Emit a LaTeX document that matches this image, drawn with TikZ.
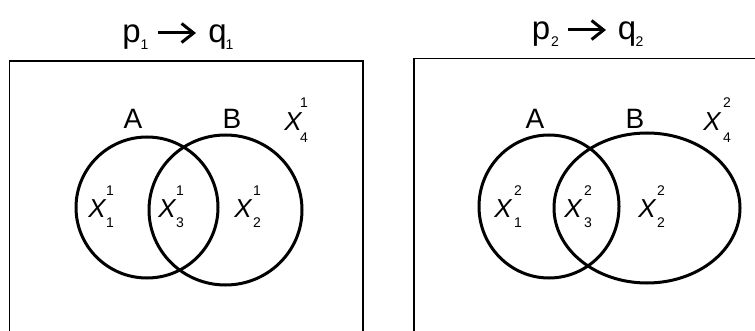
\documentclass[tikz,border=0pt]{standalone}
\usepackage{fontspec}
\setmainfont{Liberation Sans}
\usetikzlibrary{arrows.meta}
\begin{document}
\begin{tikzpicture}[x=1pt,y=-1pt,
  frame/.style={line width=1.8pt},
  setc/.style={line width=3pt},
  setlbl/.style={font=\fontsize{28}{28}\selectfont, inner sep=0pt},
  xlbl/.style={font=\fontsize{26}{26}\selectfont\itshape, inner sep=0pt},
  idx/.style={font=\fontsize{14}{14}\selectfont, inner sep=0pt},
  ttl/.style={font=\fontsize{33}{33}\selectfont, inner sep=0pt, anchor=base},
  tsub/.style={font=\fontsize{14}{14}\selectfont, inner sep=0pt, anchor=base},
  imp/.style={line width=3pt, -{Straight Barb[length=12pt,width=19pt,line width=3pt]}}]
\useasboundingbox (0,0) rectangle (755,331);
% left panel frame
\coordinate (l1) at (9.5,345); \coordinate (l2) at (9.5,61); \coordinate (l3) at (363,61); \coordinate (l4) at (363,345);
\draw[frame] (l1) -- (l2) -- (l3) -- (l4);
% right panel frame
\coordinate (r1) at (414,345); \coordinate (r2) at (414,58.5); \coordinate (r3) at (765,58.5);
\draw[frame] (r1) -- (r2) -- (r3);
% titles
\node[ttl] (p1) at (131.5,43) {p}; \node[tsub] (p1s) at (144.5,50) {1};
\node[ttl] (q1) at (217.5,43) {q}; \node[tsub] (q1s) at (229.5,50) {1};
\coordinate (a1s) at (158,33); \coordinate (a1e) at (196,33);
\draw[imp] (a1s) -- (a1e);
\node[ttl] (p2) at (541,40) {p}; \node[tsub] (p2s) at (555,47) {2};
\node[ttl] (q2) at (627,40) {q}; \node[tsub] (q2s) at (639.5,47) {2};
\coordinate (a2s) at (568,30); \coordinate (a2e) at (606,30);
\draw[imp] (a2s) -- (a2e);
% left panel sets
\draw[setc] (147,207.5) ellipse [x radius=71pt, y radius=70.5pt];
\draw[setc] (225.5,210) ellipse [x radius=76.5pt, y radius=75pt];
\node[setlbl] (A1) at (133,119) {A};
\node[setlbl] (B1) at (232,119) {B};
\node[xlbl] (X41) at (293,122) {X}; \node[idx] (X41u) at (304,103) {1}; \node[idx] (X41d) at (304,138) {4};
\node[xlbl] (X11) at (97,209) {X}; \node[idx] (X11u) at (110,191) {1}; \node[idx] (X11d) at (110,223) {1};
\node[xlbl] (X31) at (167,209) {X}; \node[idx] (X31u) at (180,191) {1}; \node[idx] (X31d) at (180,223) {3};
\node[xlbl] (X21) at (243,209) {X}; \node[idx] (X21u) at (257,191) {1}; \node[idx] (X21d) at (257,223) {2};
% right panel sets
\draw[setc] (549,206.5) ellipse [x radius=70pt, y radius=71.5pt];
\draw[setc] (647,208) ellipse [x radius=93pt, y radius=75pt];
\node[setlbl] (A2) at (535,119) {A};
\node[setlbl] (B2) at (635,119) {B};
\node[xlbl] (X42) at (712,122) {X}; \node[idx] (X42u) at (727,103) {2}; \node[idx] (X42d) at (727,138) {4};
\node[xlbl] (X12) at (503,209) {X}; \node[idx] (X12u) at (518,191) {2}; \node[idx] (X12d) at (518,223) {1};
\node[xlbl] (X32) at (573,209) {X}; \node[idx] (X32u) at (588,191) {2}; \node[idx] (X32d) at (588,223) {3};
\node[xlbl] (X22) at (647,209) {X}; \node[idx] (X22u) at (661,191) {2}; \node[idx] (X22d) at (661,223) {2};
\end{tikzpicture}
\end{document}
